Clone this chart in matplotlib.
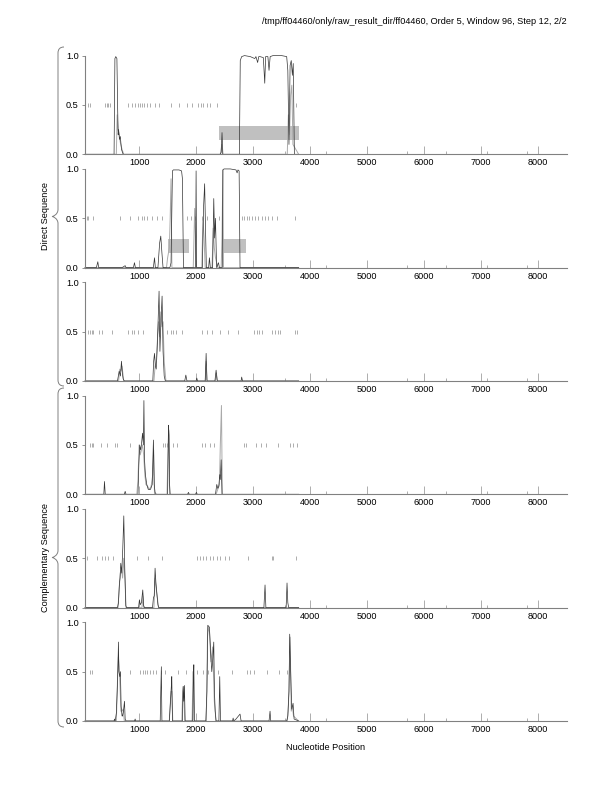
import matplotlib
matplotlib.use("Agg")
import matplotlib.pyplot as plt
from matplotlib.path import Path
from matplotlib.patches import PathPatch, Rectangle

plt.rcParams['font.family'] = ['Liberation Sans Narrow', 'Liberation Sans', 'DejaVu Sans']

TITLE = "/tmp/ff04460/only/raw_result_dir/ff04460, Order 5, Window 96, Step 12, 2/2"
XLABEL = "Nucleotide Position"
GROUP_LABELS = ["Direct Sequence", "Complementary Sequence"]
X_TICKS = [1000, 2000, 3000, 4000, 5000, 6000, 7000, 8000]
X_MINOR = [3560, 4275, 5695, 6390, 7100, 7800]
Y_TICKS = [0.0, 0.5, 1.0]
X_RANGE = (50, 8510)

# ---------- panel 1 ----------
p1_black_x = [50, 560, 575, 590, 610, 622, 632, 640, 655, 670, 690, 720, 2400, 2420, 2440, 2455, 2470,
              2760, 2775, 2800, 2850, 2950, 3030, 3050, 3080, 3100, 3120, 3180, 3205, 3220, 3260, 3280,
              3300, 3350, 3500, 3590, 3610, 3630, 3650, 3670, 3690, 3705, 3725, 3800]
p1_black_y = [0, 0, 0.97, 0.99, 0.97, 0.5, 0.2, 0.25, 0.15, 0.18, 0.05, 0, 0, 0, 0.02, 0.22, 0,
              0, 0.95, 0.99, 1.0, 0.99, 0.97, 0.99, 0.93, 0.99, 0.99, 0.98, 0.72, 0.99, 0.99, 0.85,
              0.99, 1.0, 1.0, 0.99, 0.85, 0.1, 0.9, 0.95, 0.8, 0.92, 0.0, 0]
p1_gray_x = [50, 600, 615, 630, 650, 670, 700, 730, 2430, 2450, 2465, 3600, 3620, 3640, 3660, 3680, 3700, 3800]
p1_gray_y = [0, 0, 0.4, 0.25, 0.2, 0.12, 0.05, 0, 0, 0.1, 0, 0, 0.4, 0.2, 0.6, 0.7, 0.1, 0]
p1_stops = [99, 140, 403, 433, 462, 491, 813, 871, 930, 977, 1017, 1047, 1093, 1134, 1193, 1280,
            1351, 1561, 1707, 1848, 1924, 2041, 2082, 2129, 2187, 2246, 2362, 3748]
p1_genes = [(2403, 3812)]

# ---------- panel 2 ----------
p2_black_x = [50, 250, 275, 290, 700, 755, 770, 900, 918, 935, 1250, 1270, 1285, 1330, 1360, 1380,
              1400, 1420, 1540, 1560, 1585, 1600, 1700, 1745, 1760, 1778, 1790, 1990, 2000, 2008,
              2020, 2110, 2130, 2150, 2165, 2180, 2220, 2234, 2250, 2290, 2310, 2325, 2340, 2360,
              2392, 2410, 2460, 2470, 2490, 2600, 2700, 2720, 2735, 2755, 2771, 2785, 3800]
p2_black_y = [0, 0, 0.06, 0, 0, 0.02, 0, 0, 0.05, 0, 0, 0.1, 0, 0, 0.25, 0.32,
              0.15, 0, 0, 0.05, 0.98, 0.99, 0.99, 0.98, 0.9, 0, 0, 0, 0.98, 0,
              0, 0, 0.6, 0.85, 0.4, 0, 0, 0.1, 0, 0, 0.7, 0.3, 0.5, 0,
              0.05, 0, 0, 0.99, 1.0, 1.0, 0.99, 0.96, 0.99, 0.98, 0, 0, 0]
p2_gray_x = [50, 1480, 1500, 1530, 1545, 1560, 1575, 1800, 1950, 1975, 1990, 2005, 2100, 2120, 2140,
             2160, 2200, 2280, 2300, 2320, 2340, 2380, 2440, 2455, 2470, 2480, 3800]
p2_gray_y = [0, 0, 0.1, 0.2, 0.5, 0.9, 0, 0, 0, 0.6, 0.3, 0, 0, 0.5, 0.3,
             0, 0, 0, 0.4, 0.2, 0.1, 0, 0, 0.3, 0.99, 0, 0]
p2_stops = [82, 111, 199, 667, 842, 988, 1047, 1093, 1134, 1222, 1310, 1409, 1836, 1912, 1982, 2111,
            2187, 2409, 2801, 2842, 2889, 2936, 2977, 3035, 3093, 3152, 3210, 3269, 3327, 3415, 3737]
p2_genes = [(1514, 1877), (2480, 2877)]

# ---------- panel 3 ----------
p3_black_x = [50, 620, 650, 672, 690, 705, 720, 740, 1240, 1255, 1270, 1285, 1300, 1315, 1330, 1350,
              1365, 1380, 1403, 1420, 1440, 1460, 1800, 1820, 1840, 2000, 2012, 2025, 2160, 2176,
              2190, 2330, 2351, 2370, 2790, 2800, 2815, 3800]
p3_black_y = [0, 0, 0.1, 0.05, 0.2, 0.08, 0.02, 0, 0, 0.2, 0.28, 0.15, 0.12, 0.3, 0.55, 0.91,
              0.3, 0.55, 0.86, 0.3, 0.05, 0, 0, 0.06, 0, 0, 0.03, 0, 0, 0.28,
              0, 0, 0.11, 0, 0, 0.04, 0, 0]
p3_gray_x = [50, 640, 660, 680, 700, 730, 1260, 1280, 1300, 1320, 1340, 1360, 1380, 1400, 1420, 1440,
             1470, 2160, 2175, 2195, 2340, 2355, 2375, 3800]
p3_gray_y = [0, 0, 0.12, 0.1, 0.15, 0, 0, 0.15, 0.2, 0.4, 0.6, 0.45, 0.7, 0.55, 0.6, 0.2,
             0, 0, 0.2, 0, 0, 0.08, 0, 0]
p3_stops = [111, 140, 170, 199, 287, 345, 520, 801, 871, 918, 977, 1076, 1485, 1561, 1602, 1643,
            1748, 2100, 2187, 2275, 2421, 2567, 2731, 3023, 3064, 3105, 3152, 3327, 3386, 3432,
            3473, 3737, 3766]
p3_genes = []

# ---------- panel 4 ----------
p4_black_x = [50, 380, 392, 405, 740, 755, 770, 980, 995, 1010, 1025, 1040, 1060, 1075, 1084, 1095,
              1110, 1134, 1160, 1200, 1230, 1251, 1265, 1280, 1300, 1500, 1515, 1525, 1535, 1545,
              1850, 1866, 1880, 1990, 2005, 2020, 2340, 2363, 2380, 2398, 2415, 2425, 2440, 2455, 3800]
p4_black_y = [0, 0, 0.13, 0, 0, 0.03, 0, 0, 0.3, 0.5, 0.45, 0.5, 0.62, 0.5, 0.95, 0.35,
              0.2, 0.1, 0.05, 0.05, 0.1, 0.55, 0.1, 0.02, 0, 0, 0.7, 0.6, 0.1, 0,
              0, 0.02, 0, 0, 0.02, 0, 0, 0.1, 0.06, 0.08, 0.2, 0.15, 0.35, 0, 0]
p4_gray_x = [50, 960, 980, 1000, 1020, 1040, 1060, 1080, 1100, 1120, 1150, 1180, 1210, 1240, 1255,
             1270, 1490, 1505, 1520, 1535, 2350, 2380, 2410, 2425, 2445, 2460, 3800]
p4_gray_y = [0, 0, 0.15, 0.5, 0.4, 0.45, 0.5, 0.4, 0.2, 0.1, 0.08, 0.05, 0.08, 0.2, 0.45,
             0, 0, 0.4, 0.65, 0, 0, 0.05, 0.1, 0.5, 0.9, 0, 0]
p4_stops = [140, 170, 199, 333, 444, 579, 620, 842, 1415, 1456, 1497, 1602, 1673, 2105, 2158, 2246,
            2322, 2842, 2877, 3053, 3140, 3228, 3444, 3649, 3696, 3766]
p4_genes = []

# ---------- panel 5 ----------
p5_black_x = [50, 620, 637, 655, 665, 678, 695, 713, 731, 748, 766, 780, 990, 1005, 1020, 1040, 1064,
              1080, 1095, 1235, 1251, 1265, 1280, 1295, 1310, 1330, 1345, 3190, 3210, 3225, 3580,
              3596, 3610, 3625, 3800]
p5_black_y = [0, 0, 0.05, 0.25, 0.3, 0.45, 0.35, 0.6, 0.93, 0.4, 0.02, 0, 0, 0.08, 0.03, 0.05, 0.18,
              0.02, 0, 0, 0.1, 0.12, 0.4, 0.25, 0.15, 0.03, 0, 0, 0.23, 0, 0,
              0.25, 0.05, 0, 0]
p5_gray_x = [50, 630, 650, 670, 690, 710, 730, 750, 770, 1050, 1065, 1080, 1260, 1280, 1300, 1320, 1340, 3800]
p5_gray_y = [0, 0, 0.2, 0.35, 0.4, 0.3, 0.5, 0.3, 0, 0, 0.12, 0, 0, 0.3, 0.2, 0.1, 0, 0]
p5_stops = [82, 257, 345, 403, 462, 550, 959, 1164, 1409, 2012, 2070, 2129, 2170, 2246, 2304, 2363,
            2421, 2509, 2580, 2907, 3327, 3344, 3748]
p5_genes = []

# ---------- panel 6 ----------
p6_black_x = [50, 560, 567, 580, 600, 615, 630, 637, 645, 660, 672, 684, 700, 708, 725, 743, 755, 770,
              920, 930, 940, 1370, 1380, 1390, 1400, 1530, 1550, 1565, 1573, 1585, 1760, 1772, 1784,
              1795, 1808, 1940, 1952, 1960, 1972, 2170, 2190, 2205, 2220, 2234, 2255, 2275, 2290,
              2310, 2322, 2335, 2350, 2400, 2415, 2428, 2640, 2650, 2660, 2700, 2771, 2790, 3280,
              3298, 3310, 3590, 3610, 3630, 3643, 3660, 3678, 3690, 3702, 3720, 3800]
p6_black_y = [0, 0, 0.02, 0, 0.08, 0.3, 0.6, 0.8, 0.5, 0.45, 0.5, 0.15, 0.05, 0.05, 0.1, 0.2, 0.02, 0,
              0, 0.02, 0, 0, 0.3, 0.55, 0, 0, 0.2, 0.35, 0.45, 0, 0, 0.35, 0.2,
              0.36, 0, 0, 0.4, 0.57, 0, 0, 0.3, 0.97, 0.96, 0.95, 0.7, 0.5, 0.6,
              0.8, 0.3, 0.1, 0, 0, 0.45, 0, 0, 0.03, 0, 0.02, 0.07, 0, 0,
              0.1, 0, 0, 0.05, 0.3, 0.88, 0.5, 0.12, 0.15, 0.18, 0.02, 0]
p6_gray_x = [50, 600, 620, 635, 650, 665, 680, 700, 720, 740, 1530, 1545, 1560, 1575, 1590, 1750, 1765,
             1780, 1800, 1930, 1945, 1960, 2180, 2200, 2215, 2235, 2260, 2290, 2320, 2350, 3600,
             3615, 3630, 3650, 3670, 3690, 3710, 3800]
p6_gray_y = [0, 0, 0.4, 0.65, 0.55, 0.35, 0.1, 0.1, 0.12, 0, 0, 0.15, 0.3, 0.3, 0, 0, 0.3,
             0.35, 0, 0, 0.5, 0, 0, 0.85, 0.95, 0.9, 0.6, 0.75, 0.2, 0, 0,
             0.1, 0.3, 0.85, 0.1, 0.15, 0.05, 0]
p6_stops = [140, 170, 842, 1018, 1076, 1105, 1146, 1193, 1240, 1298, 1380, 1456, 1678, 1825, 2012,
            2117, 2217, 2304, 2392, 2626, 2889, 2947, 3018, 3240, 3462, 3591]
p6_genes = []

panels = [
    (p1_black_x, p1_black_y, p1_gray_x, p1_gray_y, p1_stops, p1_genes),
    (p2_black_x, p2_black_y, p2_gray_x, p2_gray_y, p2_stops, p2_genes),
    (p3_black_x, p3_black_y, p3_gray_x, p3_gray_y, p3_stops, p3_genes),
    (p4_black_x, p4_black_y, p4_gray_x, p4_gray_y, p4_stops, p4_genes),
    (p5_black_x, p5_black_y, p5_gray_x, p5_gray_y, p5_stops, p5_genes),
    (p6_black_x, p6_black_y, p6_gray_x, p6_gray_y, p6_stops, p6_genes),
]

W, H = 612, 792
fig = plt.figure(figsize=(W / 100, H / 100), dpi=100)

FS = 6.6
AX_L, AX_R = 85, 567
PANEL_H = 98.7
STEP = 113.34
FIRST_BOTTOM = 154.3
SPINE_C = '#808080'
TICK_C = '#a0a0a0'
GRAY_LINE = '#aaaaaa'
STOP_C = '#a0a0a0'
GENE_C = '#c0c0c0'

for i, (bx, by, gx, gy, stops, genes) in enumerate(panels):
    y0 = FIRST_BOTTOM + STEP * i
    ax = fig.add_axes([AX_L / W, (H - y0) / H, (AX_R - AX_L) / W, PANEL_H / H])
    ax.set_xlim(*X_RANGE)
    ax.set_ylim(0, 1.0)
    for g0, g1 in genes:
        ax.add_patch(Rectangle((g0, 0.145), g1 - g0, 0.145, facecolor=GENE_C, edgecolor='none', zorder=1))
    ax.vlines(stops, 0.48, 0.52, color=STOP_C, lw=0.6, zorder=1.5)
    ax.plot(gx, gy, color=GRAY_LINE, lw=0.7, zorder=1.8, clip_on=False)
    ax.plot(bx, by, color='#333333', lw=0.5, zorder=2, clip_on=False)
    ax.spines['top'].set_visible(False)
    ax.spines['right'].set_visible(False)
    for s in ('left', 'bottom'):
        ax.spines[s].set_color(SPINE_C)
        ax.spines[s].set_linewidth(0.8)
        ax.spines[s].set_zorder(5)
    ax.set_xticks(X_TICKS)
    ax.set_xticklabels([str(t) for t in X_TICKS])
    ax.set_xticks(X_MINOR, minor=True)
    ax.set_yticks(Y_TICKS)
    ax.set_yticklabels(["%.1f" % t for t in Y_TICKS])
    ax.tick_params(axis='x', which='major', direction='in', length=6, width=0.6, color=TICK_C,
                   labelsize=FS, pad=3)
    ax.tick_params(axis='x', which='minor', direction='in', length=2.5, width=0.6, color=TICK_C)
    ax.tick_params(axis='y', which='major', direction='out', length=2.5, width=0.6, color=SPINE_C,
                   labelsize=FS, pad=2)
    ax.patch.set_alpha(0)

# overlay for title, labels and braces
ov = fig.add_axes([0, 0, 1, 1])
ov.set_xlim(0, W)
ov.set_ylim(H, 0)
ov.axis('off')
ov.patch.set_alpha(0)

ov.text(567, 22, TITLE, ha='right', va='center', fontsize=FS)
ov.text(326, 747, XLABEL, ha='center', va='center', fontsize=FS)


def brace(top, bottom, x=58, tip=52, curl=64):
    mid = (top + bottom) / 2.0
    verts = [(curl, top), (x, top), (x, top + 6),
             (x, mid - 7),
             (x, mid - 2), (tip + 1, mid), (tip, mid),
             (tip + 1, mid), (x, mid + 2), (x, mid + 7),
             (x, bottom - 6),
             (x, bottom), (curl, bottom)]
    codes = [Path.MOVETO, Path.CURVE3, Path.CURVE3,
             Path.LINETO,
             Path.CURVE4, Path.CURVE4, Path.CURVE4,
             Path.CURVE4, Path.CURVE4, Path.CURVE4,
             Path.LINETO,
             Path.CURVE3, Path.CURVE3]
    ov.add_patch(PathPatch(Path(verts, codes), facecolor='none', edgecolor=SPINE_C, lw=0.7))


brace(47, 386)
brace(388, 727)
ov.text(45, 216.5, GROUP_LABELS[0], rotation=90, ha='center', va='center', fontsize=FS)
ov.text(45, 557.5, GROUP_LABELS[1], rotation=90, ha='center', va='center', fontsize=FS)

fig.savefig("out.png", dpi=100)
